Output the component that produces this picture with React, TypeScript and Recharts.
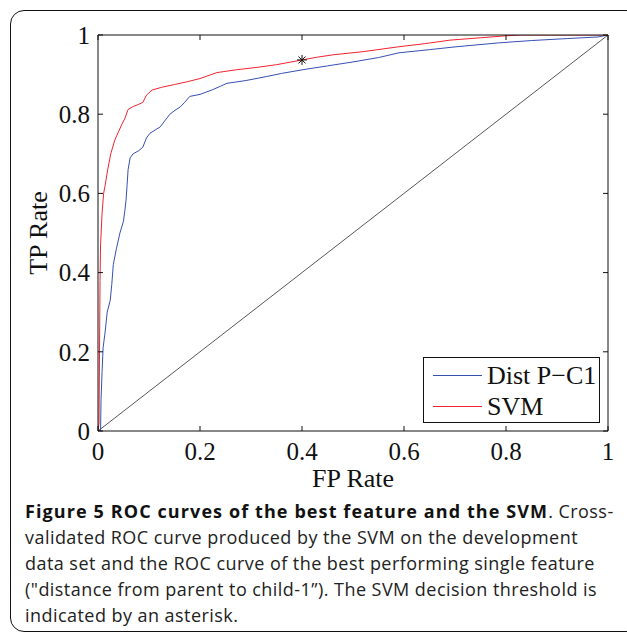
import { ComposedChart, Line, Scatter, XAxis, YAxis, Legend } from 'recharts'

// ROC points (FP rate, TP rate)
const svmFpr = [0, 0.002, 0.003, 0.004, 0.005, 0.008, 0.011, 0.014, 0.019, 0.025, 0.033, 0.04, 0.047, 0.053, 0.059, 0.07, 0.08, 0.088, 0.095, 0.106, 0.125, 0.15, 0.175, 0.2, 0.233, 0.27, 0.31, 0.35, 0.4, 0.43, 0.461, 0.52, 0.588, 0.64, 0.69, 0.75, 0.8, 0.83, 1]
const svmTpr = [0, 0.02, 0.2, 0.38, 0.47, 0.55, 0.6, 0.62, 0.66, 0.7, 0.735, 0.755, 0.775, 0.79, 0.812, 0.82, 0.825, 0.83, 0.848, 0.861, 0.868, 0.875, 0.882, 0.89, 0.905, 0.912, 0.918, 0.925, 0.937, 0.944, 0.95, 0.958, 0.97, 0.978, 0.987, 0.993, 0.998, 1, 1]

const distFpr = [0, 0.005, 0.006, 0.008, 0.01, 0.014, 0.018, 0.024, 0.027, 0.03, 0.036, 0.043, 0.05, 0.053, 0.055, 0.057, 0.059, 0.063, 0.069, 0.08, 0.088, 0.095, 0.102, 0.112, 0.122, 0.132, 0.141, 0.151, 0.161, 0.17, 0.18, 0.2, 0.225, 0.253, 0.29, 0.33, 0.36, 0.4, 0.45, 0.5, 0.55, 0.59, 0.65, 0.7, 0.785, 0.85, 0.92, 0.98, 1]
const distTpr = [0, 0, 0.08, 0.15, 0.21, 0.25, 0.3, 0.33, 0.37, 0.42, 0.46, 0.5, 0.53, 0.56, 0.583, 0.62, 0.66, 0.69, 0.7, 0.708, 0.717, 0.74, 0.752, 0.76, 0.768, 0.785, 0.8, 0.81, 0.818, 0.83, 0.845, 0.85, 0.862, 0.878, 0.885, 0.895, 0.903, 0.912, 0.922, 0.932, 0.943, 0.955, 0.963, 0.97, 0.98, 0.986, 0.991, 0.995, 1]

const chanceFpr = [0, 1]
const chanceTpr = [0, 1]

// SVM decision threshold (asterisk)
const thresholdFpr = [0.4]
const thresholdTpr = [0.937]

const TICKS = [0, 0.2, 0.4, 0.6, 0.8, 1]

const BLUE = '#3650b2'
const RED = '#ef2430'
const INK = '#111'
const SERIF = '"Liberation Serif", "Times New Roman", serif'
const TICK_LEN = 5

const zip = (xs: number[], ys: number[]) => xs.map((x, i) => ({ x, y: ys[i] }))

const svmData = zip(svmFpr, svmTpr)
const distData = zip(distFpr, distTpr)
const chanceData = zip(chanceFpr, chanceTpr)
const thresholdData = zip(thresholdFpr, thresholdTpr)

type TickProps = { x?: number; y?: number; payload?: { value: number } }

// MATLAB-style inward ticks: label outside, short mark pointing into the plot
const BOTTOM_GAP = 11
function BottomTick({ x = 0, y = 0, payload }: TickProps) {
  const ay = y - BOTTOM_GAP
  return (
    <g>
      <line x1={x} y1={ay} x2={x} y2={ay - TICK_LEN} stroke={INK} />
      <text x={x} y={y} dy="0.71em" textAnchor="middle" fontSize={25} fontFamily={SERIF} fill={INK}>{payload?.value}</text>
    </g>
  )
}

const LEFT_GAP = 8
function LeftTick({ x = 0, y = 0, payload }: TickProps) {
  const ax = x + LEFT_GAP
  return (
    <g>
      <line x1={ax} y1={y} x2={ax + TICK_LEN} y2={y} stroke={INK} />
      <text x={x} y={y} dy="0.355em" textAnchor="end" fontSize={25} fontFamily={SERIF} fill={INK}>{payload?.value}</text>
    </g>
  )
}

const TopTick = ({ x = 0, y = 0 }: TickProps) => <line x1={x} y1={y} x2={x} y2={y + TICK_LEN} stroke={INK} />
const RightTick = ({ x = 0, y = 0 }: TickProps) => <line x1={x} y1={y} x2={x - TICK_LEN} y2={y} stroke={INK} />

function Asterisk(props: { cx?: number; cy?: number }) {
  const { cx = 0, cy = 0 } = props
  const r = 5
  const d = r * 0.7
  return (
    <g stroke={INK} strokeWidth={1}>
      <line x1={cx - r} y1={cy} x2={cx + r} y2={cy} />
      <line x1={cx} y1={cy - r} x2={cx} y2={cy + r} />
      <line x1={cx - d} y1={cy - d} x2={cx + d} y2={cy + d} />
      <line x1={cx - d} y1={cy + d} x2={cx + d} y2={cy - d} />
    </g>
  )
}

function LegendBox({ payload }: { payload?: { value: string; color: string }[] }) {
  const items = (payload ?? []).filter(p => p.value === 'Dist P\u2212C1' || p.value === 'SVM')
  return (
    <div style={{ width: 177, height: 66, border: `1.5px solid ${INK}`, boxSizing: 'border-box', background: '#fff', paddingTop: 2 }}>
      {items.map(p => (
        <div key={p.value} style={{ display: 'flex', alignItems: 'center', height: 31 }}>
          <div style={{ width: 49, height: 0, borderTop: `1.2px solid ${p.color}`, marginLeft: 9, marginRight: 5 }} />
          <span style={{ fontFamily: SERIF, fontSize: 26, color: INK, lineHeight: '26px' }}>{p.value}</span>
        </div>
      ))}
    </div>
  )
}

export default function App() {
  return (
    <div style={{ position: 'absolute', left: 0, top: 0, width: 627, height: 635, overflow: 'hidden', background: '#fff' }}>
      <div style={{ position: 'absolute', left: 10, top: 10, width: 630, height: 622, border: `1.6px solid ${INK}`, borderRadius: 14, boxSizing: 'border-box' }} />
      <div style={{ position: 'absolute', left: 0, top: 0 }}>
        <ComposedChart width={627} height={500} margin={{ top: 34, right: 18, bottom: 29, left: 38 }}>
          <XAxis
            type="number" dataKey="x" domain={[0, 1]} ticks={TICKS} allowDataOverflow
            stroke={INK} tickLine={false} tickSize={0} tickMargin={BOTTOM_GAP} height={40} tick={<BottomTick />}
            label={{ value: 'FP Rate', position: 'bottom', offset: -2, style: { fontSize: 26, fill: INK, fontFamily: SERIF } }}
          />
          <XAxis xAxisId="top" orientation="top" type="number" dataKey="x" domain={[0, 1]} ticks={TICKS} allowDataOverflow
            stroke={INK} tickLine={false} tickSize={0} tickMargin={0} height={1} tick={<TopTick />} />
          <YAxis
            type="number" dataKey="y" domain={[0, 1]} ticks={TICKS} allowDataOverflow
            stroke={INK} tickLine={false} tickSize={0} tickMargin={LEFT_GAP} width={60} tick={<LeftTick />}
            label={{ value: 'TP Rate', angle: -90, position: 'insideLeft', offset: 0, style: { fontSize: 26, fill: INK, fontFamily: SERIF, textAnchor: 'middle' } }}
          />
          <YAxis yAxisId="right" orientation="right" type="number" dataKey="y" domain={[0, 1]} ticks={TICKS} allowDataOverflow
            stroke={INK} tickLine={false} tickSize={0} tickMargin={0} width={1} tick={<RightTick />} />
          {/* chance diagonal, bound to the mirror axes so they draw too */}
          <Line data={chanceData} xAxisId="top" yAxisId="right" dataKey="y" stroke="#444" strokeWidth={0.9} dot={false} legendType="none" isAnimationActive={false} />
          <Line data={distData} dataKey="y" name={'Dist P\u2212C1'} stroke={BLUE} strokeWidth={1} dot={false} isAnimationActive={false} />
          <Line data={svmData} dataKey="y" name="SVM" stroke={RED} strokeWidth={1} dot={false} isAnimationActive={false} />
          <Scatter data={thresholdData} dataKey="y" shape={<Asterisk />} legendType="none" isAnimationActive={false} />
          <Legend content={<LegendBox />} layout="horizontal" verticalAlign="middle" align="center" wrapperStyle={{ left: 423, top: 357, width: 177, height: 66, bottom: 'auto', right: 'auto' }} />
        </ComposedChart>
      </div>
      <div style={{ position: 'absolute', left: 25, top: 498, width: 610, fontFamily: '"Open Sans", sans-serif', fontSize: 18, lineHeight: '26px', color: '#222', whiteSpace: 'nowrap', letterSpacing: '0.45px' }}>
        <b style={{ color: INK, letterSpacing: '1.1px' }}>Figure 5 ROC curves of the best feature and the SVM</b>. Cross-<br />
        validated ROC curve produced by the SVM on the development<br />
        data set and the ROC curve of the best performing single feature<br />
        ("distance from parent to child-1”). The SVM decision threshold is<br />
        indicated by an asterisk.
      </div>
    </div>
  )
}
